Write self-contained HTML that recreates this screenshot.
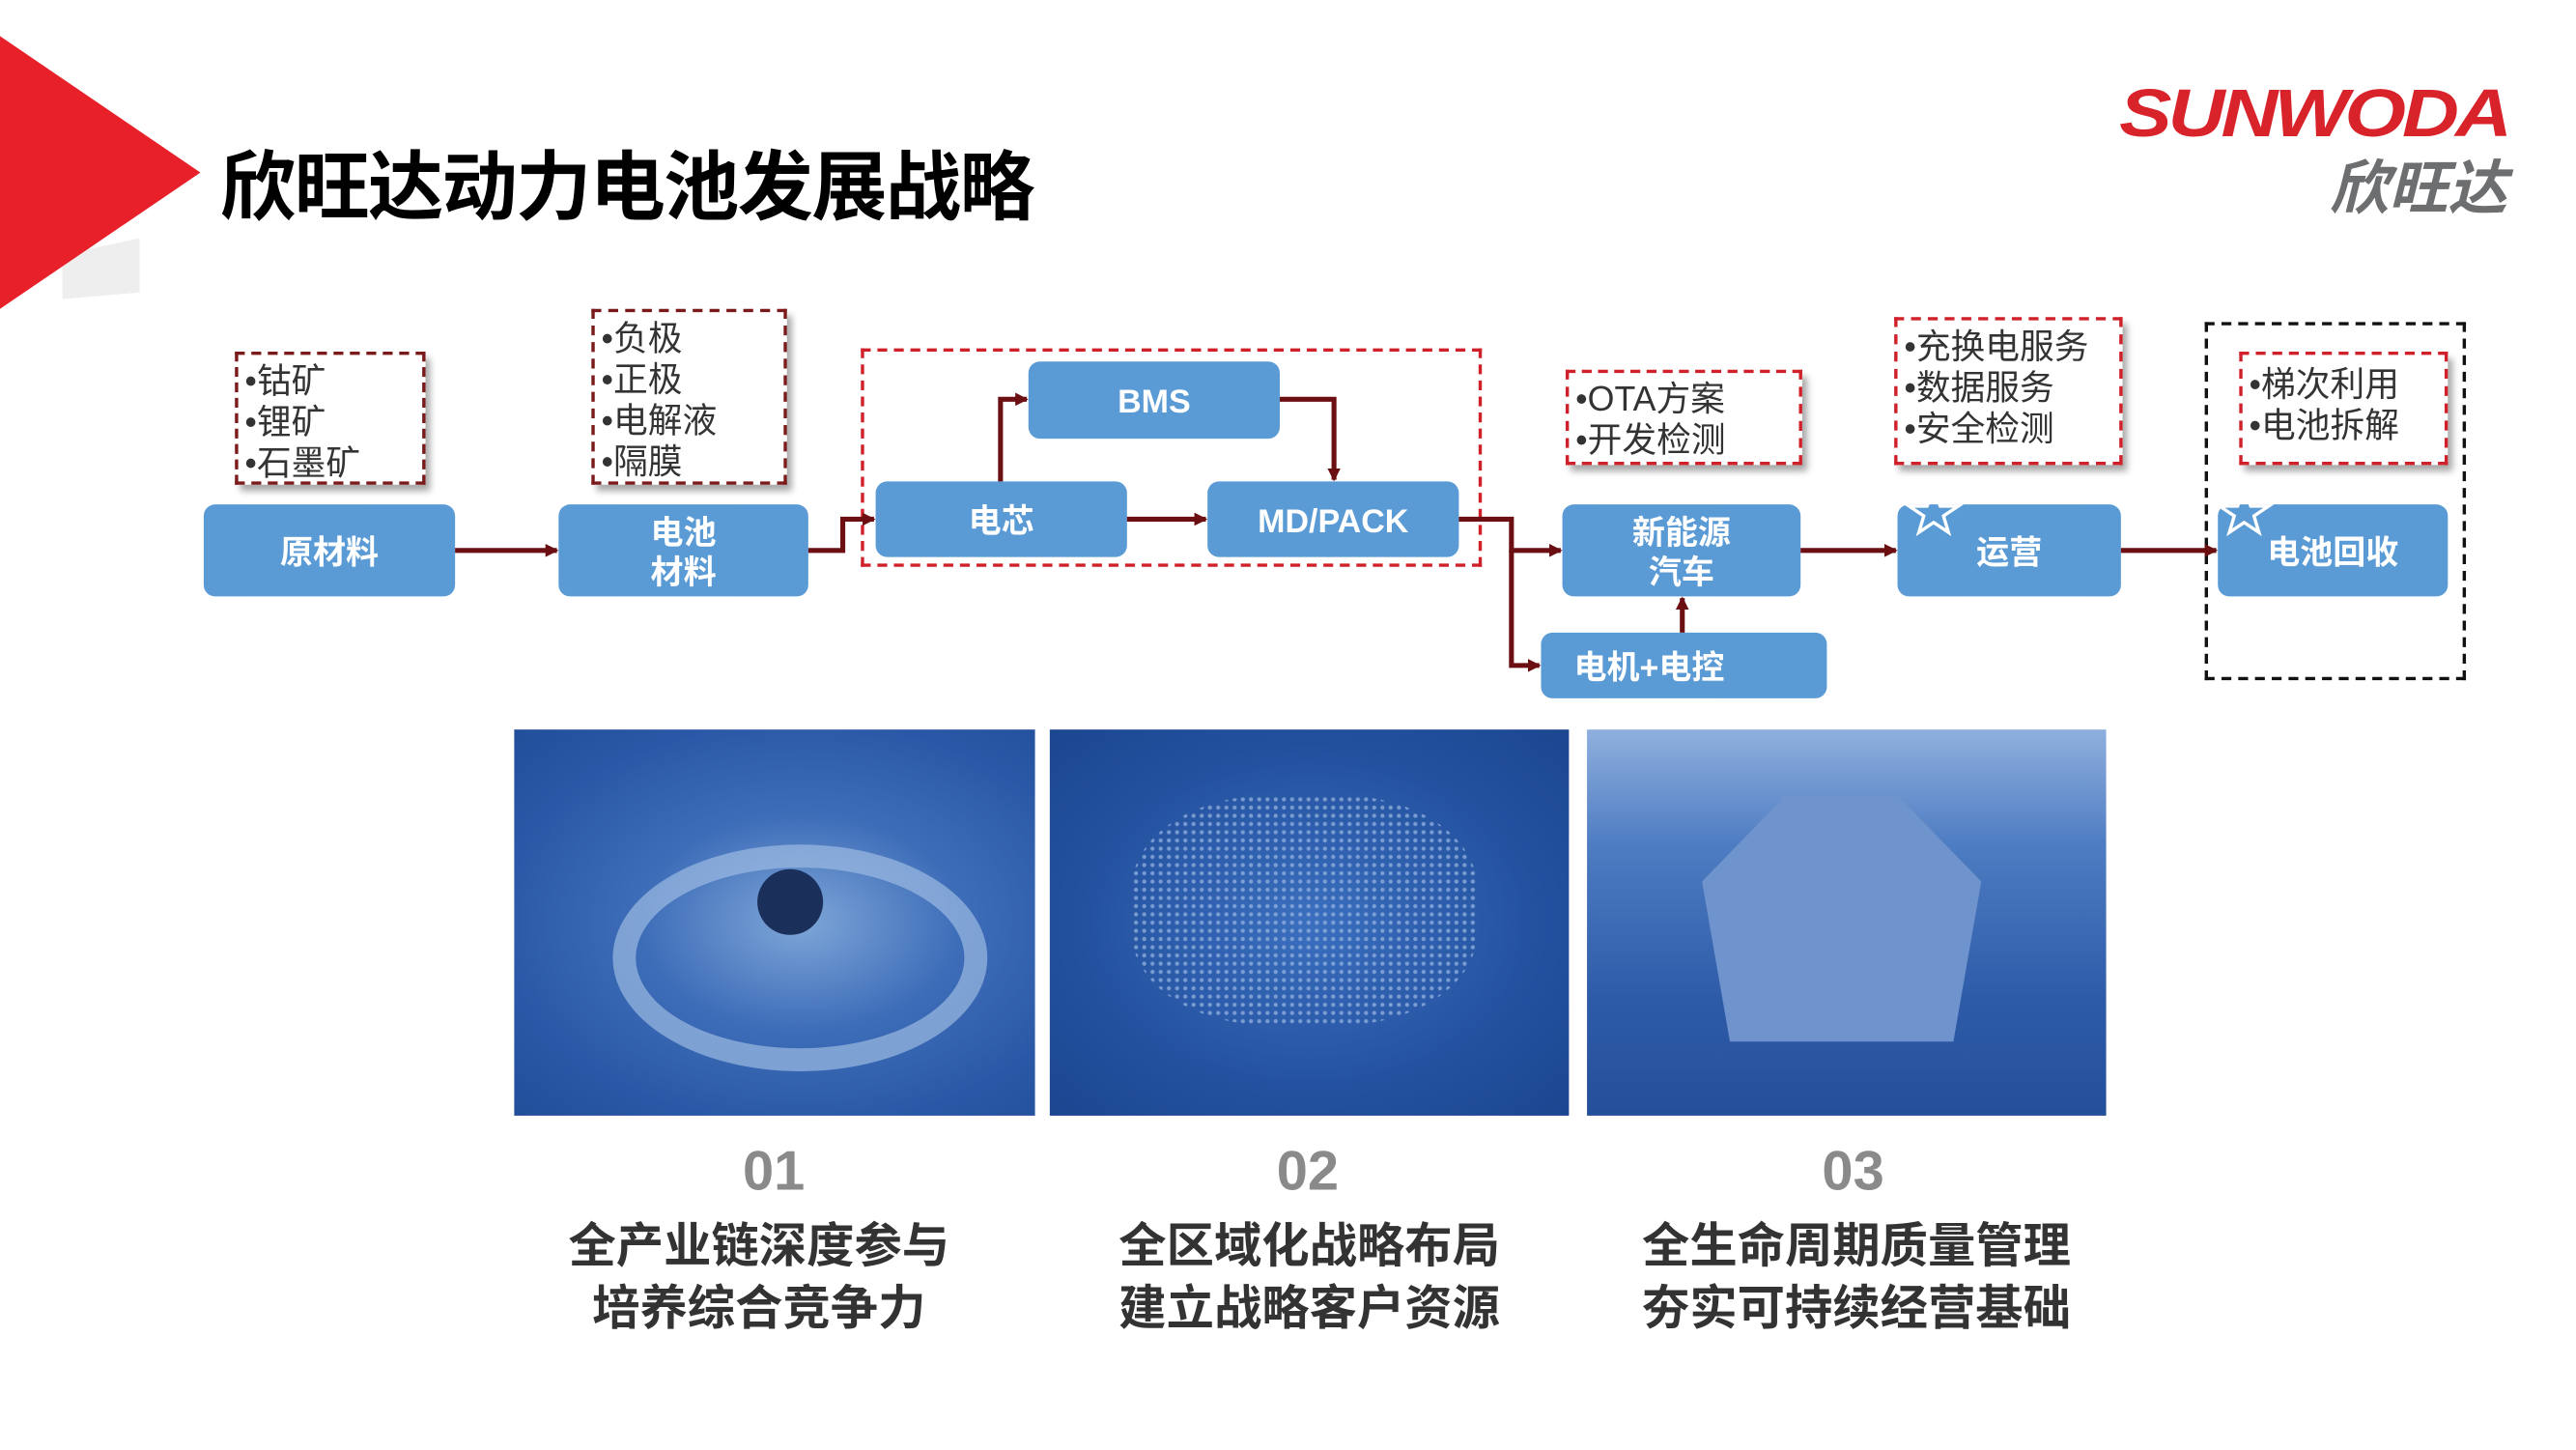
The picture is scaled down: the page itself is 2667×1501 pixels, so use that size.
<!DOCTYPE html>
<html><head><meta charset="utf-8"><style>
html,body{margin:0;padding:0;background:#fff;overflow:hidden}
body{width:2667px;height:1501px;position:relative}
#s{position:absolute;left:0;top:0;width:1568px;height:883px;transform:scale(1.7009);transform-origin:0 0;font-family:"Liberation Sans","Noto Sans CJK SC",sans-serif}
.b{position:absolute;background:#5b9bd5;border-radius:7px;color:#fff;font-weight:bold;font-size:20px;display:flex;align-items:center;justify-content:center;text-align:center;line-height:24px;padding-top:3px;box-sizing:border-box}
.n{position:absolute;border:2px dashed #7a1a1a;box-shadow:3px 4px 4px rgba(0,0,0,.35);background:#fff;font-size:21px;color:#333;line-height:25px;padding:4px 0 0 4px;box-sizing:border-box}
.r{border-color:#d0202a}
.img{position:absolute;top:444px;height:235px;width:317px}
.num{position:absolute;top:694px;font-size:34px;font-weight:bold;color:#8a8a8a;width:320px;text-align:center}
.cap{position:absolute;top:740px;font-size:29px;font-weight:bold;color:#333;width:340px;text-align:center;line-height:38px}
</style></head><body><div id="s">
<svg width="1568" height="883" style="position:absolute;left:0;top:0">
<polygon points="38,155 85,145 85,178 38,182" fill="#eee"/>
<polygon points="0,22 122,105 0,188" fill="#e8202a"/>
</svg>
<div style="position:absolute;left:134px;top:78px;font-size:46px;font-weight:bold;color:#000;letter-spacing:-1px">欣旺达动力电池发展战略</div>
<div style="position:absolute;left:1290px;top:46px;font-size:41px;font-weight:bold;font-style:italic;color:#d9232b;letter-spacing:-2px;transform:scaleX(1.17);transform-origin:0 0">SUNWODA</div>
<div style="position:absolute;left:1418px;top:86px;font-size:36px;font-weight:bold;font-style:italic;color:#6d6e70">欣旺达</div>

<div style="position:absolute;left:524px;top:212px;width:378px;height:133px;border:2px dashed #d0202a;box-sizing:border-box"></div>
<div style="position:absolute;left:1342px;top:196px;width:159px;height:218px;border:2px dashed #111;box-sizing:border-box"></div>

<div class="n" style="left:143px;top:214px;width:116px;height:81px">•钴矿<br>•锂矿<br>•石墨矿</div>
<div class="n" style="left:360px;top:188px;width:119px;height:107px">•负极<br>•正极<br>•电解液<br>•隔膜</div>
<div class="n r" style="left:953px;top:225px;width:144px;height:58px;padding-top:4px">•OTA方案<br>•开发检测</div>
<div class="n r" style="left:1153px;top:193px;width:139px;height:90px;padding-top:4px">•充换电服务<br>•数据服务<br>•安全检测</div>
<div class="n r" style="left:1363px;top:214px;width:127px;height:69px;padding-top:6px">•梯次利用<br>•电池拆解</div>

<div class="b" style="left:124px;top:307px;width:153px;height:56px">原材料</div>
<div class="b" style="left:340px;top:307px;width:152px;height:56px">电池<br>材料</div>
<div class="b" style="left:533px;top:293px;width:153px;height:46px">电芯</div>
<div class="b" style="left:626px;top:220px;width:153px;height:47px">BMS</div>
<div class="b" style="left:735px;top:293px;width:153px;height:46px">MD/PACK</div>
<div class="b" style="left:951px;top:307px;width:145px;height:56px">新能源<br>汽车</div>
<div class="b" style="left:938px;top:385px;width:174px;height:40px;justify-content:flex-start;padding-left:20px">电机+电控</div>
<div class="b" style="left:1155px;top:307px;width:136px;height:56px">运营</div>
<div class="b" style="left:1350px;top:307px;width:140px;height:56px">电池回收</div>

<svg width="1568" height="883" style="position:absolute;left:0;top:0">
<defs><marker id="a" markerWidth="8" markerHeight="8" refX="7" refY="4" orient="auto" markerUnits="userSpaceOnUse"><path d="M0,0 L8,4 L0,8z" fill="#6b0f12"/></marker></defs>
<g stroke="#6b0f12" stroke-width="3" fill="none" marker-end="url(#a)">
<path d="M277,335 H339"/>
<path d="M492,335 H513 V316 H532"/>
<path d="M609,293 V243 H625"/>
<path d="M779,243 H812 V292"/>
<path d="M686,316 H734"/>
<path d="M888,316 H920 V335 H950"/>
<path d="M920,335 V405 H937"/>
<path d="M1024,385 V364"/>
<path d="M1096,335 H1154"/>
<path d="M1291,335 H1349"/>
</g>
<g fill="none" stroke="#fff" stroke-width="2">
<polygon points="1177,298 1181,308 1192,308 1183,314 1186,324 1177,318 1168,324 1171,314 1162,308 1173,308"/>
<polygon points="1366,298 1370,308 1381,308 1372,314 1375,324 1366,318 1357,324 1360,314 1351,308 1362,308"/>
</g>
</svg>

<div class="img" style="left:313px;background:radial-gradient(ellipse at 55% 50%,#7ea6d8 0%,#3d6cb8 40%,#2a58a6 75%,#224e9a 100%)">
<div style="position:absolute;left:60px;top:70px;width:200px;height:110px;border:14px solid #9cbbe2;border-radius:50%;opacity:.7"></div>
<div style="position:absolute;left:148px;top:85px;width:40px;height:40px;border-radius:50%;background:#1a2f5a"></div></div>
<div class="img" style="left:639px;width:316px;background:radial-gradient(ellipse at 50% 50%,#3b6fbf 0%,#2452a0 60%,#1b4690 100%)">
<div style="position:absolute;left:50px;top:40px;width:210px;height:140px;background:radial-gradient(circle,#9bb8e2 1px,transparent 1.5px) 0 0/5px 5px;opacity:.7;border-radius:40%"></div></div>
<div class="img" style="left:966px;width:316px;background:linear-gradient(180deg,#8fb0de 0%,#4e7cc2 30%,#2e5ba8 70%,#244f9a 100%)">
<div style="position:absolute;left:70px;top:40px;width:170px;height:150px;background:#6f93cc;clip-path:polygon(30% 0,70% 0,100% 35%,90% 100%,10% 100%,0 35%)"></div></div>

<div class="num" style="left:311px">01</div>
<div class="num" style="left:636px">02</div>
<div class="num" style="left:968px">03</div>
<div class="cap" style="left:292px">全产业链深度参与<br>培养综合竞争力</div>
<div class="cap" style="left:627px">全区域化战略布局<br>建立战略客户资源</div>
<div class="cap" style="left:960px">全生命周期质量管理<br>夯实可持续经营基础</div>
</div></body></html>
